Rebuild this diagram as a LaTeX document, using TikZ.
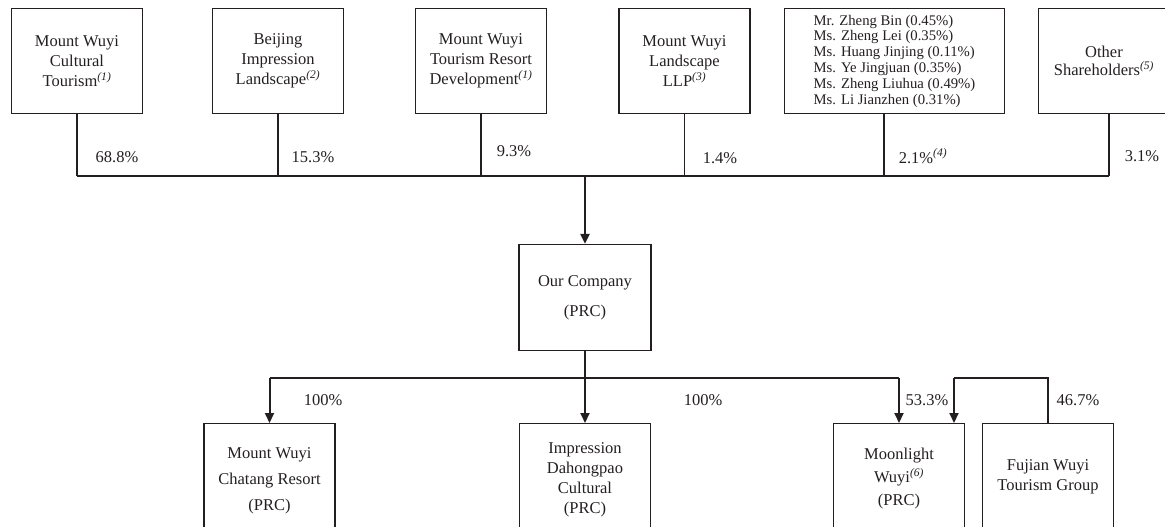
\documentclass[tikz,border=0pt]{standalone}
\usepackage{fontspec}
\setmainfont{Liberation Serif}
\usetikzlibrary{arrows.meta}
\definecolor{ink}{HTML}{231F20}
\tikzset{
  box/.style={draw, line width=1.2pt, minimum width=131pt, minimum height=105pt, align=center, inner sep=0pt},
  lowbox/.style={draw, line width=1.2pt, minimum width=131pt, align=center, inner sep=0pt, anchor=north, text height=#1, text depth=60pt},
  own/.style={line width=1.2pt},
  arr/.style={line width=2pt, -{Triangle[length=10pt,width=9pt]}},
}
\newcommand{\fn}[1]{\textsuperscript{\itshape(#1)}}

\begin{document}
\begin{tikzpicture}[x=1pt,y=-1pt,font=\fontsize{16.5}{20}\selectfont, color=ink]
    \useasboundingbox (0,0) rectangle (1165,527);
    \clip (0,0) rectangle (1165,527);

    % shareholders
    \node[box] (cult) at (77,61) {Mount Wuyi\\Cultural\\Tourism\fn{1}};
    \node[box] (bjil) at (278,61) {Beijing\\Impression\\Landscape\fn{2}};
    \node[box] (resort) at (481,61) {Mount Wuyi\\Tourism Resort\\Development\fn{1}};
    \node[box] (llp) at (684.5,61) {Mount Wuyi\\Landscape\\LLP\fn{3}};
    \node[box, minimum width=220pt, align=left, font=\fontsize{14.7}{15.8}\selectfont] (indiv) at (894.5,61)
        {Mr. Zheng Bin (0.45\%)\\Ms. Zheng Lei (0.35\%)\\Ms. Huang Jinjing (0.11\%)\\Ms. Ye Jingjuan (0.35\%)\\Ms. Zheng Liuhua (0.49\%)\\Ms. Li Jianzhen (0.31\%)};
    \node[box] (other) at (1104,61) {Other\\[-2pt]Shareholders\fn{5}};

    \coordinate (busL) at (77,176);
    \coordinate (busR) at (1109,176);
    \draw[own] (busL) -- (busR);
    \foreach \n in {cult,bjil,resort,llp}
        \draw[own] (\n.south) -- (\n.south |- busL);
    \draw[own] ([xshift=-10.5pt]indiv.south) -- ([xshift=-10.5pt]indiv.south |- busL);
    \draw[own] ([xshift=5pt]other.south) -- (busR);

    \node (p1) at (117,157) {68.8\%};
    \node (p2) at (313,157) {15.3\%};
    \node (p3) at (514,151) {9.3\%};
    \node (p4) at (720,158) {1.4\%};
    \node (p5) at (923,156) {2.1\%\fn{4}};
    \node (p6) at (1142,156) {3.1\%};

    % company
    \node[box, minimum width=132pt, minimum height=106pt] (co) at (585,297.5) {Our Company\\[10pt](PRC)};
    \draw[arr] (co.north |- busL) -- (co.north);

    % subsidiaries
    \node[lowbox=87pt] (chat) at (269.5,423) {Mount Wuyi\\[6pt]Chatang Resort\\[6pt](PRC)};
    \node[lowbox=90pt] (imp) at (585,423) {Impression\\Dahongpao\\Cultural\\(PRC)};
    \node[lowbox=82pt] (moon) at (899,423) {Moonlight\\[3pt]Wuyi\fn{6}\\[3pt](PRC)};
    \node[lowbox=67pt] (fuj) at (1048,423) {Fujian Wuyi\\Tourism Group};

    \coordinate (bus2) at (585,378);
    \coordinate (moonR) at ([xshift=55pt]moon.north);
    \draw[own] (chat.north |- bus2) -- (moon.north |- bus2);
    \draw[arr] (co.south) -- (imp.north);
    \draw[arr] (chat.north |- bus2) -- (chat.north);
    \draw[arr] (moon.north |- bus2) -- (moon.north);
    \draw[own] (fuj.north) -- (fuj.north |- bus2) -- (moonR |- bus2);
    \draw[arr] (moonR |- bus2) -- (moonR);

    \node (q1) at (323,400) {100\%};
    \node (q2) at (703,400) {100\%};
    \node (q3) at (927,400) {53.3\%};
    \node (q4) at (1078,400) {46.7\%};
\end{tikzpicture}
\end{document}
